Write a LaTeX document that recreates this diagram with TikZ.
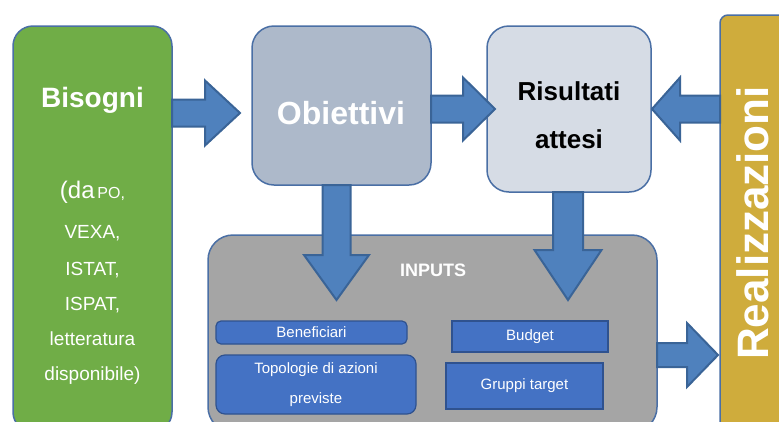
\documentclass[tikz,border=0pt]{standalone}
\usepackage{fontspec}
\setmainfont{Liberation Sans}
\usetikzlibrary{calc}

\definecolor{boxline}{HTML}{4A6FA5}
\definecolor{needgreen}{HTML}{70AD47}
\definecolor{goalfill}{HTML}{ADB9CA}
\definecolor{resfill}{HTML}{D6DCE5}
\definecolor{realgold}{HTML}{CFAC3C}
\definecolor{inputgray}{HTML}{A5A5A5}
\definecolor{itemblue}{HTML}{4472C4}
\definecolor{itemline}{HTML}{2F528F}
\definecolor{arrowfill}{HTML}{4F81BD}
\definecolor{arrowline}{HTML}{3A6497}

\newcommand\fs[1]{\fontsize{#1}{#1}\selectfont}

% block arrow from #1 (tail) to #2 (tip); #3 shaft half-width, #4 head half-width, #5 head length
\newcommand\blockarrow[5]{%
  \path (#1) coordinate (ba-tail) (#2) coordinate (ba-tip);
  \path ($(ba-tip)!#5!(ba-tail)$) coordinate (ba-neck);
  \draw[barrow]
    ($(ba-tail)!#3!90:(ba-tip)$) -- ($(ba-neck)!#3!90:(ba-tip)$)
    -- ($(ba-neck)!#4!90:(ba-tip)$) -- (ba-tip)
    -- ($(ba-neck)!#4!-90:(ba-tip)$) -- ($(ba-neck)!#3!-90:(ba-tip)$)
    -- ($(ba-tail)!#3!-90:(ba-tip)$) -- cycle;}

\begin{document}
\begin{tikzpicture}[x=1pt,y=-1pt,
  mainbox/.style={draw=boxline, line width=1.5pt, inner sep=0pt, outer sep=0pt, anchor=north west},
  itembox/.style={fill=itemblue, draw=itemline, line width=1.2pt, inner sep=0pt, outer sep=0pt,
                  anchor=north west, text=white, font=\fs{15}, align=center},
  barrow/.style={fill=arrowfill, draw=arrowline, line width=2pt, line join=miter},
  lbl/.style={inner sep=0pt, outer sep=0pt}]

\clip (0,0) rectangle (779,421);
\fill[white] (0,0) rectangle (779,421);

% main blocks
\node[mainbox, fill=needgreen, rounded corners=20pt, minimum width=159pt, minimum height=406pt] (bis) at (13,26) {};
\node[mainbox, fill=goalfill, rounded corners=22pt, minimum width=179pt, minimum height=159pt] (obj) at (252,26) {};
\node[mainbox, fill=resfill, rounded corners=22pt, minimum width=164pt, minimum height=166pt] (ris) at (487,26) {};
\node[mainbox, fill=realgold, rounded corners=8pt, minimum width=80pt, minimum height=417pt] (real) at (720,15) {};
\node[mainbox, fill=inputgray, rounded corners=25pt, minimum width=449pt, minimum height=197pt] (inp) at (208,235) {};

% texts of the main blocks
\node[lbl, anchor=base, text=white, font=\bfseries\fs{28}] (bist) at (92.5,107) {Bisogni};
\node[lbl, anchor=base, text=white] (bl1) at (92.5,198) {{\fs{24}(da} {\fs{16}PO,}};
\node[lbl, anchor=base, text=white, font=\fs{19}] (bl2) at (92.5,238) {VEXA,};
\node[lbl, anchor=base, text=white, font=\fs{19}] (bl3) at (92.5,275) {ISTAT,};
\node[lbl, anchor=base, text=white, font=\fs{19}] (bl4) at (92.5,310) {ISPAT,};
\node[lbl, anchor=base, text=white, font=\fs{19}] (bl5) at (92.5,345) {letteratura};
\node[lbl, anchor=base, text=white, font=\fs{19}] (bl6) at (92.5,380) {disponibile)};

\node[lbl, anchor=base, text=white, font=\bfseries\fs{32}] (objt) at (341,124) {Obiettivi};

\node[lbl, anchor=base, text=black, font=\bfseries\fs{26}] (rist1) at (569,100) {Risultati};
\node[lbl, anchor=base, text=black, font=\bfseries\fs{26}] (rist2) at (569,148) {attesi};

\node[lbl, rotate=90, text=white, font=\bfseries\fs{44}, text height=31.5pt, text depth=0pt]
  (realt) at (753,223) {Realizzazioni};

\node[lbl, text=white, font=\bfseries\fs{18}] (inpt) at (433,270) {INPUTS};

% input items
\node[itembox, rounded corners=5pt, minimum width=191pt, minimum height=23pt] (ben) at (216,321) {Beneficiari};
\node[itembox, rounded corners=9pt, minimum width=200pt, minimum height=59pt,
      font=\fontsize{15}{30}\selectfont] (top) at (216,355) {Topologie di azioni\\ previste};
\node[itembox, minimum width=156pt, minimum height=31pt] (bud) at (452,321) {Budget};
\node[itembox, minimum width=157pt, minimum height=46pt] (grp) at (446,363) {Gruppi target};

% block arrows between the blocks
\blockarrow{$(bis.east|-obj.west)+(0,7.5)$}{$(obj.west)+(-12,7.5)$}{13.5pt}{32.5pt}{35pt}
\blockarrow{obj.east|-ris.west}{$(ris.west)+(8,0)$}{13.5pt}{31.5pt}{32pt}
\blockarrow{real.west|-ris.east}{$(ris.east)+(1,0)$}{13.5pt}{31.5pt}{28pt}
\blockarrow{$(obj.south)+(-5,0)$}{$(obj.south)+(-5,115)$}{14pt}{32.5pt}{45pt}
\blockarrow{$(ris.south)+(-1,0)$}{$(ris.south)+(-1,108)$}{15pt}{33.5pt}{50pt}
\blockarrow{$(inp.east)+(0,21.5)$}{$(real.west|-inp.east)+(-2,21.5)$}{12pt}{32pt}{31pt}

\end{tikzpicture}
\end{document}
